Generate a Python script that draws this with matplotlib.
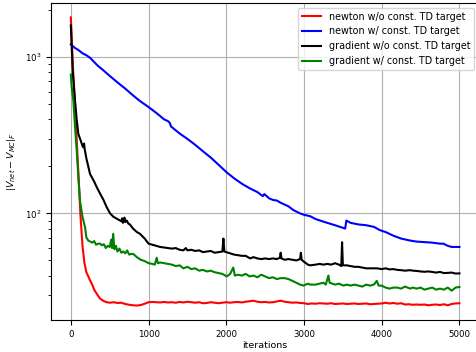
import matplotlib
matplotlib.use('Agg')
import matplotlib.pyplot as plt
import numpy as np

# iterations / values
red_x = [0, 10, 25, 50, 75, 100, 125, 150, 175, 200, 225, 250, 275, 300, 333, 375, 420, 462, 500, 550,
         600, 650, 700, 750, 800, 850, 900, 950, 1000, 1050, 1100, 1150, 1200, 1250, 1300, 1350, 1400,
         1450, 1500, 1550, 1600, 1650, 1700, 1750, 1800, 1850, 1900, 1950, 2000, 2050, 2100, 2150, 2200,
         2250, 2300, 2350, 2400, 2450, 2500, 2550, 2600, 2650, 2700, 2750, 2800, 2850, 2900, 2950, 3000,
         3050, 3100, 3150, 3200, 3250, 3300, 3350, 3400, 3450, 3500, 3550, 3600, 3650, 3700, 3750, 3800,
         3850, 3900, 3950, 4000, 4050, 4100, 4150, 4200, 4250, 4300, 4350, 4400, 4450, 4500, 4550, 4600,
         4650, 4700, 4750, 4800, 4850, 4900, 4950, 5000]
red_y = [1800, 1400, 900, 540, 300, 170, 95, 62, 48, 42, 39.5, 37, 35, 32.5, 30.6, 28.5, 27.5, 27, 26.8, 27,
         26.7, 26.8, 26.3, 26, 25.8, 25.7, 25.9, 26.4, 27, 27.1, 27, 26.9, 27.1, 26.9, 27, 26.8, 27.1,
         26.9, 27.2, 27, 26.8, 27, 26.6, 26.7, 27, 26.8, 26.6, 26.8, 27, 26.8, 27, 27.1, 26.9,
         27.2, 27.4, 27.6, 27.2, 27, 27.1, 26.9, 27, 27.3, 27.6, 27.2, 27, 26.8, 26.9, 26.7, 26.6,
         26.3, 26.5, 26.4, 26.6, 26.5, 26.4, 26.6, 26.3, 26.4, 26.5, 26.3, 26.4, 26.5, 26.3, 26.4, 26.5,
         26.2, 26.3, 26.4, 26.5, 26.8, 26.5, 26.7, 26.4, 26.6, 26.1, 26.2, 26.0, 26.1, 26.0, 26.1, 25.8,
         26.0, 26.1, 25.9, 26.2, 25.8, 26.3, 26.5, 26.6]

blue_x = [0, 50, 100, 150, 200, 250, 290, 350, 400, 500, 600, 700, 800, 890, 1000, 1100, 1200, 1250, 1270,
          1290, 1400, 1500, 1600, 1700, 1800, 1900, 2006, 2100, 2200, 2300, 2400, 2470, 2490, 2550, 2600,
          2650, 2700, 2750, 2800, 2864, 2950, 3000, 3079, 3150, 3207, 3300, 3400, 3480, 3530, 3545, 3600,
          3700, 3800, 3900, 3980, 4050, 4150, 4250, 4366, 4450, 4550, 4650, 4750, 4794, 4850, 4900, 5000]
blue_y = [1210, 1150, 1110, 1060, 1030, 990, 943, 880, 840, 760, 690, 630, 570, 524, 480, 440, 400, 390, 382,
          360, 325, 300, 275, 250, 228, 205, 183, 168, 155, 145, 137, 129, 133, 125, 122,
          121, 117, 114, 111, 105, 100, 98, 96, 92, 90, 87, 84, 81.5, 80, 90, 87,
          85, 84, 82, 78, 76, 72, 69, 67, 66, 65.5, 65, 64, 64, 62, 61, 61]

black_x = [0, 10, 25, 54, 75, 97, 130, 150, 161, 170, 180, 200, 247, 300, 340, 376, 420, 460, 505, 550, 600,
           650, 660, 670, 690, 700, 720, 740, 760, 800, 850, 890, 950, 1000, 1050, 1100, 1148, 1200, 1250,
           1300, 1350, 1400, 1448, 1480, 1500, 1550, 1600, 1650, 1700, 1750, 1800, 1850, 1900, 1950, 1963,
           1975, 2000, 2050, 2100, 2150, 2200, 2250, 2307, 2350, 2400, 2450, 2500, 2550, 2600, 2650, 2690,
           2700, 2710, 2750, 2800, 2850, 2900, 2950, 2960, 2970, 3000, 3050, 3079, 3150, 3200, 3250, 3300,
           3350, 3400, 3450, 3480, 3490, 3500, 3550, 3600, 3650, 3700, 3750, 3800, 3850, 3900, 3937, 4000,
           4050, 4100, 4150, 4200, 4250, 4300, 4366, 4400, 4450, 4500, 4550, 4600, 4650, 4700, 4750, 4800,
           4850, 4900, 4950, 5000]
black_y = [1600, 1200, 800, 524, 400, 322, 290, 270, 265, 280, 255, 225, 179, 160, 145, 134, 122, 110, 100, 95, 92,
           89, 93, 87, 94, 88, 90, 86, 85, 80, 76, 74, 69, 64, 63, 62, 61, 60.5, 60,
           59.5, 60, 58.5, 58, 60, 58, 58.5, 57.5, 58, 56.5, 57, 57.5, 56, 56.5, 57, 69,
           57, 56.5, 55.5, 54.5, 54, 53.5, 53.5, 51.5, 52.5, 51.5, 51, 51.5, 51, 51.5, 51, 52,
           56, 51.5, 50.5, 51, 50.5, 50, 51, 56, 50.5, 49, 47, 46.5, 47, 47.5, 47, 47.5,
           47, 48, 47, 46, 65.4, 46.5, 46.5, 46, 45.5, 45.5, 45, 44.5, 44.5, 44.5, 44.5, 44,
           44.5, 43.8, 44, 43.5, 43.3, 43, 43.3, 43, 42.8, 42.5, 42.3, 42.5, 42.2, 41.8, 42.2, 41.5,
           41.6, 41.8, 41.2, 41.3]

green_x = [0, 10, 33, 55, 76, 97, 118, 150, 183, 200, 225, 250, 275, 300, 325, 350, 376, 400, 425, 450, 475,
           500, 520, 530, 545, 560, 580, 600, 625, 650, 675, 700, 725, 750, 775, 805, 830, 860, 900, 950,
           1000, 1050, 1080, 1105, 1120, 1150, 1200, 1250, 1300, 1350, 1400, 1448, 1500, 1550, 1600, 1650,
           1700, 1750, 1800, 1850, 1900, 1950, 2006, 2050, 2090, 2110, 2150, 2200, 2250, 2300, 2350, 2400,
           2450, 2500, 2550, 2600, 2650, 2700, 2750, 2800, 2850, 2900, 2950, 2993, 3050, 3079, 3150, 3200,
           3250, 3280, 3314, 3330, 3400, 3450, 3507, 3550, 3600, 3650, 3700, 3750, 3800, 3850, 3900, 3937,
           3960, 4000, 4050, 4100, 4150, 4200, 4250, 4300, 4366, 4400, 4450, 4500, 4550, 4600, 4650, 4700,
           4750, 4800, 4850, 4900, 4950, 5000]
green_y = [775, 650, 524, 350, 251, 170, 120, 95, 81.5, 70, 67, 66, 65, 66.5, 63, 64, 64, 62.5, 63.5, 60, 62,
           61, 68, 60, 74, 59, 62, 57, 59.5, 56, 57, 55.5, 58, 54.5, 55, 55, 53.5, 52, 50.5, 49.5,
           48, 47.5, 47, 52, 48, 48.5, 48, 47.5, 47, 46, 46.5, 44.5, 45.5, 44, 44.5, 43,
           43.5, 42.5, 43, 42, 41.5, 41, 39.5, 41, 45, 40, 40.5, 40, 41, 39.5, 40, 39,
           40.5, 39.5, 38.5, 39, 38, 38.5, 38.5, 38, 37, 36, 35, 34.5, 35.5, 35, 35, 35.5,
           36, 35, 40, 36, 35, 35.5, 34.5, 35, 34.5, 35, 34.5, 34, 35, 34.5, 35, 37,
           34.5, 34.5, 33.5, 33, 33.5, 33.5, 33, 34, 33, 33.5, 33, 33.5, 32.5, 33, 33.5, 32.5,
           33, 32.5, 33.5, 32, 33.5, 33.8]

fig = plt.figure(figsize=(4.76, 3.52), dpi=100)
ax = fig.add_axes([0.108, 0.091, 0.898, 0.9005])

ax.plot(red_x, red_y, color='red', lw=1.5, label='newton w/o const. TD target')
ax.plot(blue_x, blue_y, color='blue', lw=1.5, label='newton w/ const. TD target')
ax.plot(black_x, black_y, color='black', lw=1.5, label='gradient w/o const. TD target')
ax.plot(green_x, green_y, color='green', lw=1.5, label='gradient w/ const. TD target')

ax.set_yscale('log')
ax.grid(True)
ax.set_xlabel('iterations', fontsize=6.8, labelpad=2)
ax.set_ylabel(r'$|V_{net} - V_{MC}|_F$', fontsize=6.8, labelpad=5)
ax.tick_params(labelsize=6.2)
ax.legend(loc='upper right', fontsize=6.9)

fig.savefig('out.png', dpi=100)
